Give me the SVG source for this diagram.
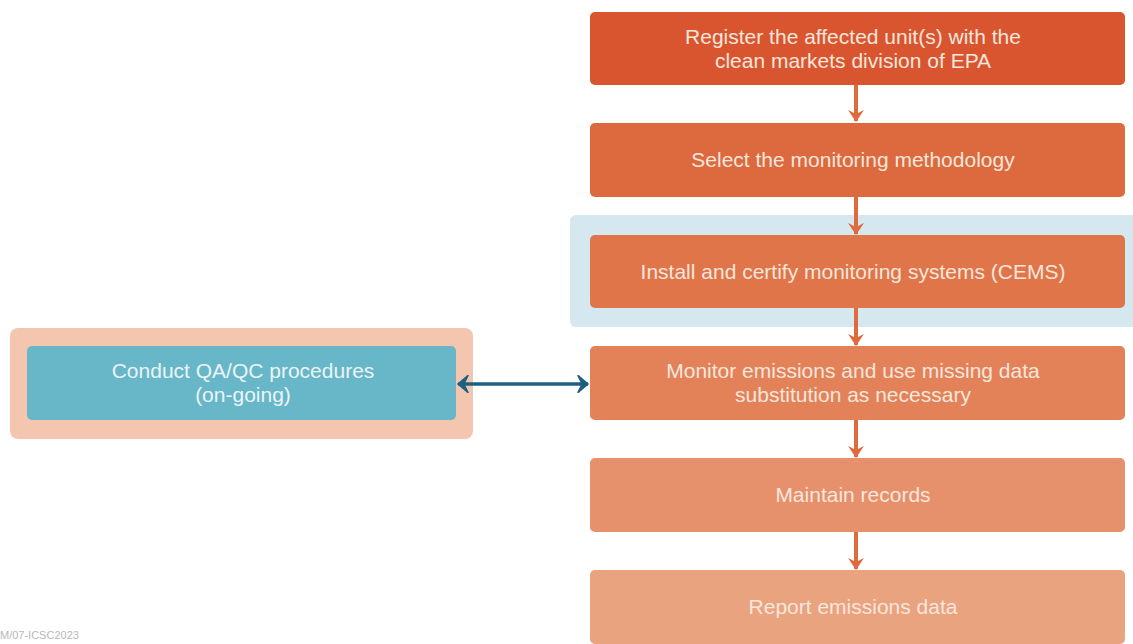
<svg xmlns="http://www.w3.org/2000/svg" width="1133" height="644" viewBox="0 0 1133 644">
  <style>
    .lbl { font-family: "Liberation Sans", Arial, sans-serif; font-size: 21px; fill: #f9e6dc; text-anchor: middle; }
    .flow { stroke: #e06a3e; stroke-width: 4; fill: none; }
    .foot { font-family: "Liberation Sans", Arial, sans-serif; font-size: 11px; fill: #b8b8b8; }
  </style>
  <defs>
    <!-- both heads are drawn pointing along +x; orient="auto" turns them along the line -->
    <marker id="down" viewBox="0 0 12 16" refX="11" refY="8" markerWidth="3" markerHeight="4.2" markerUnits="strokeWidth" orient="auto">
      <path d="M0 0 L12 8 L0 16 L4 8 Z" fill="#e06a3e"/>
    </marker>
    <marker id="dbl" viewBox="0 0 12 12" refX="10" refY="6" markerWidth="5" markerHeight="5.2" markerUnits="strokeWidth" orient="auto-start-reverse">
      <path d="M3 0 L10 6 L3 12 L6 6 Z" fill="#1d5f80" stroke="#1d5f80" stroke-width="1"/>
    </marker>
  </defs>

  <rect width="1133" height="644" fill="#ffffff"/>

  <!-- highlight band behind the CEMS step -->
  <rect id="cems-band" x="570" y="215" width="570" height="112" rx="6" fill="#d5e7ef"/>

  <g id="qaqc">
    <rect x="10" y="328" width="463" height="111" rx="8" fill="#f4c6b0"/>
    <rect x="27" y="346" width="429" height="74" rx="5" fill="#68b7c8"/>
    <text class="lbl" x="243" y="378" style="fill:#eaf4f7">Conduct QA/QC procedures</text>
    <text class="lbl" x="243" y="402" style="fill:#eaf4f7">(on-going)</text>
  </g>

  <g id="register">
    <rect x="590" y="12" width="535" height="73" rx="5" fill="#d9552f"/>
    <text class="lbl" x="853" y="44">Register the affected unit(s) with the</text>
    <text class="lbl" x="853" y="68">clean markets division of EPA</text>
  </g>

  <g id="select">
    <rect x="590" y="123" width="535" height="74" rx="5" fill="#dc6a3e"/>
    <text class="lbl" x="853" y="167">Select the monitoring methodology</text>
  </g>

  <g id="install">
    <rect x="590" y="235" width="535" height="73" rx="5" fill="#e0754a"/>
    <text class="lbl" x="853" y="279">Install and certify monitoring systems (CEMS)</text>
  </g>

  <g id="monitor">
    <rect x="590" y="346" width="535" height="74" rx="5" fill="#e38259"/>
    <text class="lbl" x="853" y="378">Monitor emissions and use missing data</text>
    <text class="lbl" x="853" y="402">substitution as necessary</text>
  </g>

  <g id="records">
    <rect x="590" y="458" width="535" height="74" rx="5" fill="#e6916c"/>
    <text class="lbl" x="853" y="502">Maintain records</text>
  </g>

  <g id="report">
    <rect x="590" y="570" width="535" height="74" rx="5" fill="#e9a37f"/>
    <text class="lbl" x="853" y="614">Report emissions data</text>
  </g>

  <g id="connectors">
    <line class="flow" x1="856" y1="85" x2="856" y2="121" marker-end="url(#down)"/>
    <line class="flow" x1="856" y1="197" x2="856" y2="234" marker-end="url(#down)"/>
    <line class="flow" x1="856" y1="308" x2="856" y2="345" marker-end="url(#down)"/>
    <line class="flow" x1="856" y1="420" x2="856" y2="457" marker-end="url(#down)"/>
    <line class="flow" x1="856" y1="532" x2="856" y2="569" marker-end="url(#down)"/>
    <line x1="458" y1="384" x2="588" y2="384" stroke="#1d5f80" stroke-width="3.5" marker-start="url(#dbl)" marker-end="url(#dbl)"/>
  </g>

  <text class="foot" x="0" y="639">M/07-ICSC2023</text>
</svg>
